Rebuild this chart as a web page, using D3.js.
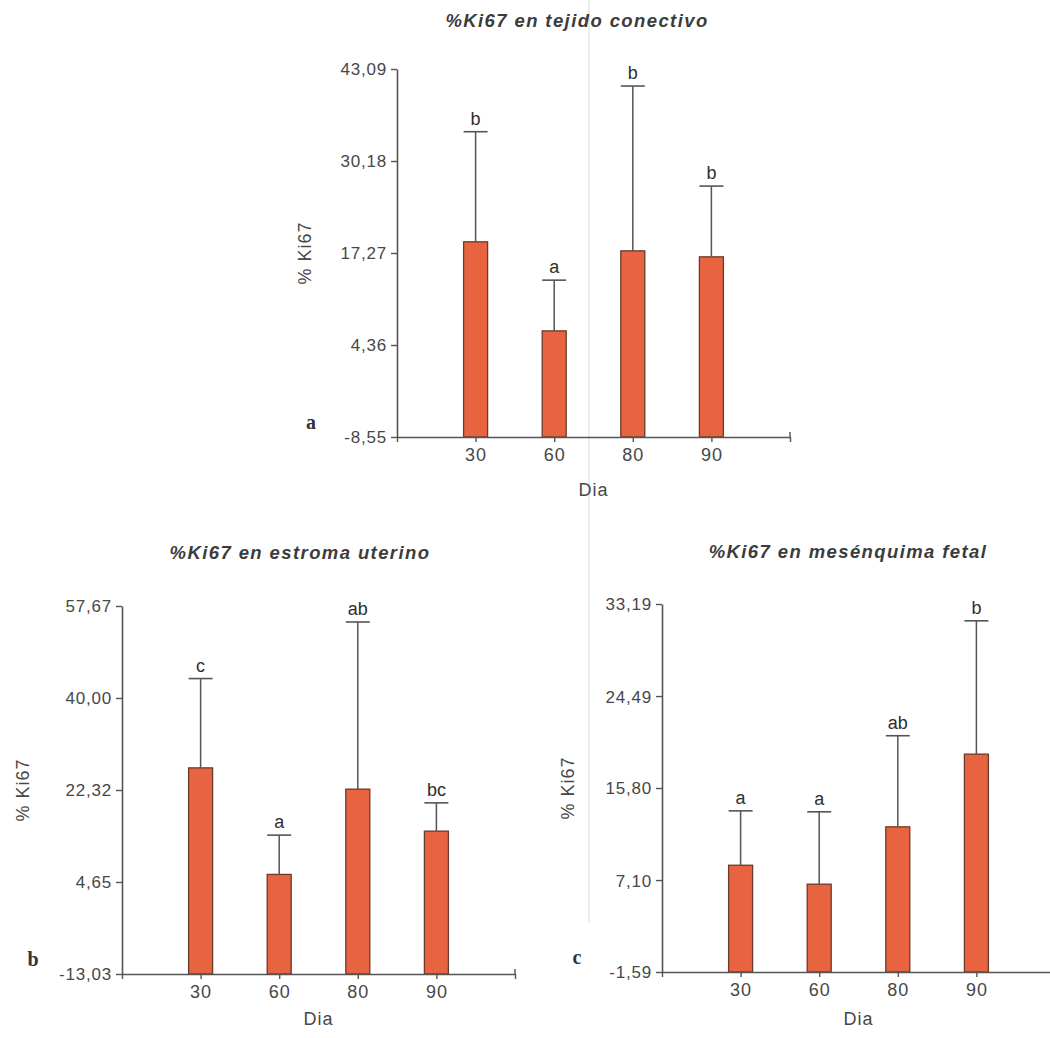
<!DOCTYPE html>
<html>
<head>
<meta charset="utf-8">
<script src="https://cdn.jsdelivr.net/npm/d3@7"></script>
<style>
  html, body { margin: 0; padding: 0; background: #fff; }
  svg { display: block; }
  text { font-family: "Liberation Sans", Arial, sans-serif; }
</style>
</head>
<body>
<svg id="fig" width="1050" height="1038"></svg>
<script>
// Sampling days shared by the three panels
const dias = ["30", "60", "80", "90"];

// Panel a: %Ki67 in connective tissue
const conectivoMedia = [18.84, 6.34, 17.57, 16.73];
const conectivoError = [34.29, 13.46, 40.70, 26.66];
const conectivoLetras = ["b", "a", "b", "b"];
const conectivoTicks = [-8.55, 4.36, 17.27, 30.18, 43.09];
const conectivoTickLabels = ["-8,55", "4,36", "17,27", "30,18", "43,09"];

// Panel b: %Ki67 in uterine stroma
const estromaMedia = [26.57, 6.10, 22.48, 14.42];
const estromaError = [43.73, 13.65, 54.60, 19.85];
const estromaLetras = ["c", "a", "ab", "bc"];
const estromaTicks = [-13.03, 4.65, 22.32, 40.00, 57.67];
const estromaTickLabels = ["-13,03", "4,65", "22,32", "40,00", "57,67"];

// Panel c: %Ki67 in fetal mesenchyme
const mesenquimaMedia = [8.50, 6.71, 12.13, 19.00];
const mesenquimaError = [13.64, 13.55, 20.74, 31.60];
const mesenquimaLetras = ["a", "a", "ab", "b"];
const mesenquimaTicks = [-1.59, 7.10, 15.80, 24.49, 33.19];
const mesenquimaTickLabels = ["-1,59", "7,10", "15,80", "24,49", "33,19"];

const svg = d3.select("#fig");
const AXIS = "#555";
const TXT = "#474747";

// faint vertical crease running through the sheet
svg.append("line")
  .attr("x1", 589).attr("x2", 589).attr("y1", 0).attr("y2", 923)
  .attr("stroke", "#e6e6e6").attr("stroke-width", 1.5);

function panel(cfg) {
  const { media, error, letras, ticks, tickLabels } = cfg;
  const g = svg.append("g");

  const y = d3.scaleLinear()
    .domain([ticks[0], ticks[ticks.length - 1]])
    .range([cfg.yBottom, cfg.yTop]);

  // five equal slots along the axis, days sit on positions 1..4
  const x = d3.scalePoint()
    .domain(d3.range(dias.length + 2))
    .range([cfg.x0, cfg.x1]);

  // title
  g.append("text")
    .attr("x", cfg.titleX).attr("y", cfg.titleY)
    .attr("text-anchor", "middle")
    .style("font-size", "18.5px").style("font-weight", "bold")
    .style("font-style", "italic").style("letter-spacing", "1.4px")
    .attr("fill", "#3c3c3c")
    .text(cfg.title);

  // y axis
  const yAxis = d3.axisLeft(y)
    .tickValues(ticks)
    .tickFormat((d, i) => tickLabels[i])
    .tickSize(6).tickSizeOuter(0).tickPadding(4);
  const ya = g.append("g").attr("transform", `translate(${cfg.x0},0)`).call(yAxis);
  ya.select(".domain").attr("stroke", AXIS).attr("stroke-width", 1.6);
  ya.selectAll(".tick line").attr("stroke", AXIS).attr("stroke-width", 1.4);
  ya.selectAll(".tick text")
    .attr("fill", TXT).style("font-size", "17px").style("letter-spacing", "0.8px")
    .attr("dy", "0.35em");

  // bars from the axis floor up to the mean
  const base = y(ticks[0]);
  const bw = 24;
  g.selectAll("rect.bar").data(media).enter().append("rect")
    .attr("class", "bar")
    .attr("x", (d, i) => x(i + 1) - bw / 2)
    .attr("y", d => y(d))
    .attr("width", bw)
    .attr("height", d => base - y(d))
    .attr("fill", "#e8633f")
    .attr("stroke", "#6a3a2c").attr("stroke-width", 1.3);

  // upper error whiskers
  g.selectAll("line.err").data(error).enter().append("line")
    .attr("class", "err")
    .attr("x1", (d, i) => x(i + 1)).attr("x2", (d, i) => x(i + 1))
    .attr("y1", (d, i) => y(media[i])).attr("y2", d => y(d))
    .attr("stroke", AXIS).attr("stroke-width", 1.5);
  g.selectAll("line.cap").data(error).enter().append("line")
    .attr("class", "cap")
    .attr("x1", (d, i) => x(i + 1) - 12).attr("x2", (d, i) => x(i + 1) + 12)
    .attr("y1", d => y(d)).attr("y2", d => y(d))
    .attr("stroke", AXIS).attr("stroke-width", 1.6);

  // significance letters
  g.selectAll("text.sig").data(error).enter().append("text")
    .attr("class", "sig")
    .attr("x", (d, i) => x(i + 1)).attr("y", d => y(d) - 7)
    .attr("text-anchor", "middle")
    .style("font-size", "18px").attr("fill", "#2e2e2e")
    .text((d, i) => letras[i]);

  // x axis
  const xAxis = d3.axisBottom(x)
    .tickFormat(i => (i >= 1 && i <= dias.length) ? dias[i - 1] : "")
    .tickSize(5).tickSizeOuter(0).tickPadding(6);
  const xa = g.append("g").attr("transform", `translate(0,${base})`).call(xAxis);
  xa.select(".domain").attr("stroke", AXIS).attr("stroke-width", 1.6);
  xa.selectAll(".tick line").attr("stroke", AXIS).attr("stroke-width", 1.4);
  xa.selectAll(".tick text")
    .attr("fill", TXT).style("font-size", "18px").style("letter-spacing", "1px");
  // end tick crossing the axis at its right end
  xa.append("line")
    .attr("x1", cfg.x1).attr("x2", cfg.x1).attr("y1", -5).attr("y2", 0)
    .attr("stroke", AXIS).attr("stroke-width", 1.4);

  // axis titles
  g.append("text")
    .attr("transform", `translate(${cfg.yLabelX},${(cfg.yTop + cfg.yBottom) / 2}) rotate(-90)`)
    .attr("text-anchor", "middle").attr("dy", "0.35em")
    .style("font-size", "18px").style("letter-spacing", "1px")
    .attr("fill", TXT)
    .text("% Ki67");
  g.append("text")
    .attr("x", (cfg.x0 + cfg.x1) / 2).attr("y", base + cfg.diaGap)
    .attr("text-anchor", "middle")
    .style("font-size", "18px").style("letter-spacing", "1px")
    .attr("fill", TXT)
    .text("Dia");

  // panel letter
  g.append("text")
    .attr("x", cfg.letterX).attr("y", base - 8)
    .attr("text-anchor", "middle")
    .style("font-family", "'Liberation Serif', 'DejaVu Serif', serif")
    .style("font-size", "20px").style("font-weight", "bold")
    .attr("fill", "#333")
    .text(cfg.letter);
}

panel({
  title: "%Ki67 en tejido conectivo", titleX: 577, titleY: 27,
  media: conectivoMedia, error: conectivoError, letras: conectivoLetras,
  ticks: conectivoTicks, tickLabels: conectivoTickLabels,
  x0: 397, x1: 790, yTop: 69, yBottom: 437, diaGap: 59,
  yLabelX: 305, letterX: 311, letter: "a"
});

panel({
  title: "%Ki67 en estroma uterino", titleX: 300, titleY: 559,
  media: estromaMedia, error: estromaError, letras: estromaLetras,
  ticks: estromaTicks, tickLabels: estromaTickLabels,
  x0: 122, x1: 515, yTop: 606, yBottom: 974, diaGap: 51,
  yLabelX: 23, letterX: 33, letter: "b"
});

panel({
  title: "%Ki67 en mesénquima fetal", titleX: 848, titleY: 558,
  media: mesenquimaMedia, error: mesenquimaError, letras: mesenquimaLetras,
  ticks: mesenquimaTicks, tickLabels: mesenquimaTickLabels,
  x0: 662, x1: 1055, yTop: 604, yBottom: 972, diaGap: 53,
  yLabelX: 568, letterX: 577, letter: "c"
});
</script>
</body>
</html>
